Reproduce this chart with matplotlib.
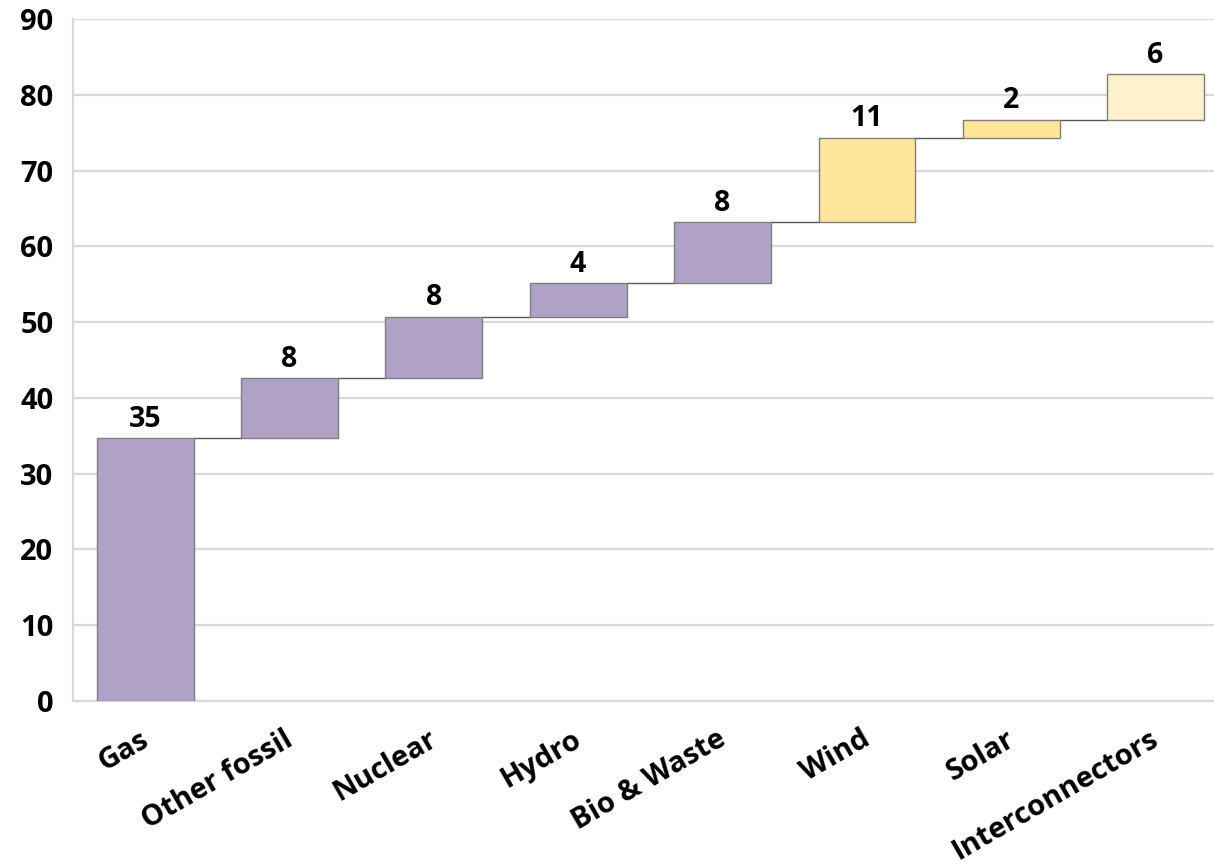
import matplotlib
matplotlib.use("Agg")
import matplotlib.pyplot as plt
import numpy as np

categories = ["Gas", "Other fossil", "Nuclear", "Hydro", "Bio & Waste", "Wind", "Solar", "Interconnectors"]
increments = [34.7, 7.9, 8.1, 4.4, 8.1, 11.1, 2.4, 6.0]
labels = ["35", "8", "8", "4", "8", "11", "2", "6"]
colors = ["#b0a2c7", "#b0a2c7", "#b0a2c7", "#b0a2c7", "#b0a2c7", "#ffe699", "#ffe699", "#fff2cc"]
yticks = [0, 10, 20, 30, 40, 50, 60, 70, 80, 90]

plt.rcParams['font.family'] = ['Open Sans', 'DejaVu Sans']

W, H = 1214, 867
fig = plt.figure(figsize=(W / 100, H / 100), dpi=100)
ax = fig.add_axes([73 / W, 166 / H, (1214 - 73) / W, (701 - 19) / H])

x = np.arange(len(categories))
inc = np.array(increments)
tops = np.cumsum(inc)
bottoms = tops - inc
width = 0.67

ax.bar(x, inc, bottom=bottoms, width=width, color=colors, edgecolor="#7f7f7f", linewidth=1.0, zorder=3)

for i in range(len(categories) - 1):
    ax.plot([x[i] + width / 2, x[i + 1] - width / 2], [tops[i], tops[i]], color="#595959", linewidth=1.0, zorder=2)

for i, lab in enumerate(labels):
    ax.text(x[i], tops[i] + 0.6, lab, ha="center", va="bottom", fontsize=20.5, fontweight="bold", color="#000000")

ax.set_ylim(0, 90)
ax.set_xlim(-0.5, (1214 - 145) / 144.36)
ax.set_yticks(yticks)
ax.set_yticklabels([str(v) for v in yticks], fontsize=21, fontweight="bold")
ax.yaxis.grid(True, color="#d9d9d9", linewidth=1.6, zorder=0)
ax.set_axisbelow(True)
ax.tick_params(axis="y", length=0, pad=14)
ax.tick_params(axis="x", length=0)
for s in ["top", "right"]:
    ax.spines[s].set_visible(False)
for s in ["left", "bottom"]:
    ax.spines[s].set_color("#d9d9d9")
    ax.spines[s].set_linewidth(1.6)

ax.set_xticks(x)
ax.set_xticklabels([])
trans = ax.get_xaxis_transform()
for i, c in enumerate(categories):
    ax.annotate(c, xy=(x[i], 0), xycoords=trans, xytext=(-6, -24), textcoords="offset pixels",
                ha="right", va="top", rotation=30, rotation_mode="anchor",
                fontsize=21, fontweight="bold", color="#000000")

fig.savefig("out.png", dpi=100)
